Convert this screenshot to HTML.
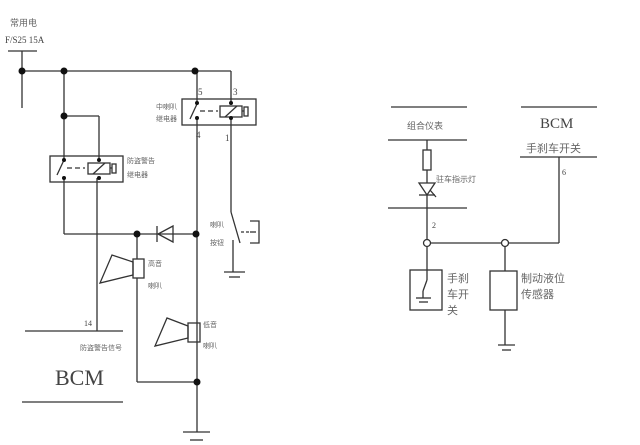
<!DOCTYPE html>
<html><head><meta charset="utf-8"><style>
html,body{margin:0;padding:0;background:#fff;}
svg{display:block;}
text{font-family:"Liberation Serif","Noto Serif CJK SC",serif;fill:#444;}
.c{font-family:"Liberation Sans","Noto Sans CJK SC",sans-serif;fill:#666;}
</style></head><body>
<svg width="640" height="445" viewBox="0 0 640 445" xmlns="http://www.w3.org/2000/svg">
<g stroke="#333" stroke-width="1.3" fill="none">
<!-- power -->
<line x1="8" y1="51" x2="37" y2="51"/>
<line x1="22" y1="51" x2="22" y2="108"/>
<line x1="22" y1="71" x2="231" y2="71"/>
<line x1="231" y1="71" x2="231" y2="103"/>
<line x1="64" y1="71" x2="64" y2="160"/>
<line x1="64" y1="116" x2="99" y2="116"/>
<line x1="99" y1="116" x2="99" y2="160"/>
<!-- relay 1 -->
<rect x="50" y="156" width="73" height="26"/>
<line x1="64" y1="160" x2="57" y2="175"/>
<line x1="67" y1="168" x2="85" y2="168" stroke-dasharray="5,3"/>
<rect x="88" y="163" width="22" height="11"/>
<line x1="93" y1="174" x2="105" y2="163"/>
<rect x="112" y="164" width="4" height="9"/>
<line x1="110" y1="168" x2="112" y2="168"/>
<line x1="64" y1="178" x2="64" y2="234"/>
<line x1="64" y1="234" x2="197" y2="234"/>
<line x1="97" y1="178" x2="97" y2="331"/>
<!-- relay 2 -->
<rect x="182" y="99" width="74" height="26"/>
<line x1="197" y1="71" x2="197" y2="103"/>
<line x1="197" y1="104" x2="190" y2="119"/>
<line x1="200" y1="111" x2="218" y2="111" stroke-dasharray="5,3"/>
<rect x="220" y="106" width="22" height="11"/>
<line x1="225" y1="117" x2="237" y2="106"/>
<rect x="244" y="107" width="4" height="9"/>
<line x1="242" y1="111" x2="244" y2="111"/>
<line x1="197" y1="118" x2="197" y2="432"/>
<line x1="231" y1="118" x2="231" y2="212"/>
<!-- horn switch -->
<line x1="231" y1="212" x2="240" y2="243"/>
<line x1="238" y1="240" x2="238" y2="272" transform="translate(-5,0)"/>
<line x1="224" y1="272" x2="245" y2="272"/>
<line x1="229" y1="277" x2="240" y2="277"/>
<line x1="241" y1="232" x2="250" y2="232" stroke-dasharray="3,2"/>
<polyline points="250,221 259,221 259,243 250,243"/>
<line x1="250" y1="232" x2="256" y2="232"/>
<!-- diode -->
<polygon points="173,226 173,242 158,234"/>
<line x1="157" y1="226" x2="157" y2="242"/>
<!-- horn1 -->
<line x1="137" y1="234" x2="137" y2="259"/>
<rect x="133" y="259" width="11" height="19"/>
<polygon points="133,262 112,255 100,283 133,275"/>
<line x1="137" y1="278" x2="137" y2="382"/>
<line x1="137" y1="382" x2="197" y2="382"/>
<!-- horn2 -->
<rect x="188" y="323" width="12" height="19"/>
<polygon points="188,326 167,318 155,346 188,338"/>
<!-- ground -->
<line x1="183" y1="432" x2="210" y2="432"/>
<line x1="190" y1="440" x2="203" y2="440"/>
<!-- BCM left -->
<line x1="25" y1="331" x2="123" y2="331"/>
<line x1="22" y1="402" x2="123" y2="402"/>
<!-- right diagram -->
<line x1="391" y1="107" x2="467" y2="107"/>
<line x1="388" y1="140" x2="467" y2="140"/>
<line x1="388" y1="208" x2="467" y2="208"/>
<line x1="427" y1="140" x2="427" y2="150"/>
<rect x="423" y="150" width="8" height="20"/>
<line x1="427" y1="170" x2="427" y2="183"/>
<polygon points="419,183 435,183 427,195"/>
<line x1="419" y1="195" x2="435" y2="195"/>
<line x1="430" y1="190" x2="436" y2="197"/>
<line x1="427" y1="195" x2="427" y2="240"/>
<line x1="430" y1="243" x2="502" y2="243"/>
<line x1="508" y1="243" x2="559" y2="243"/>
<line x1="559" y1="243" x2="559" y2="157"/>
<line x1="521" y1="107" x2="597" y2="107"/>
<line x1="520" y1="157" x2="597" y2="157"/>
<line x1="427" y1="246" x2="427" y2="270"/>
<rect x="410" y="270" width="32" height="40"/>
<line x1="427" y1="270" x2="427" y2="280"/>
<line x1="427" y1="280" x2="423" y2="291"/>
<line x1="423" y1="291" x2="423" y2="298"/>
<line x1="416" y1="298" x2="431" y2="298"/>
<line x1="419" y1="302" x2="428" y2="302"/>
<line x1="505" y1="246" x2="505" y2="271"/>
<rect x="490" y="271" width="27" height="39"/>
<line x1="505" y1="310" x2="505" y2="345"/>
<line x1="498" y1="345" x2="515" y2="345"/>
<line x1="502" y1="350" x2="511" y2="350"/>
</g>
<g fill="#111">
<circle cx="22" cy="71" r="3.5"/><circle cx="64" cy="71" r="3.5"/><circle cx="195" cy="71" r="3.5"/>
<circle cx="64" cy="116" r="3.5"/>
<circle cx="137" cy="234" r="3.5"/><circle cx="196" cy="234" r="3.5"/><circle cx="197" cy="382" r="3.5"/>
<circle cx="64" cy="160" r="2"/><circle cx="99" cy="160" r="2"/><circle cx="64" cy="178" r="2"/><circle cx="99" cy="178" r="2"/>
<circle cx="197" cy="103" r="2"/><circle cx="231" cy="103" r="2"/><circle cx="197" cy="118" r="2"/><circle cx="231" cy="118" r="2"/>
</g>
<g fill="#fff" stroke="#333" stroke-width="1.3">
<circle cx="427" cy="243" r="3.5"/><circle cx="505" cy="243" r="3.5"/>
</g>
<text x="10" y="26" class="c" font-size="9">常用电</text>
<text x="5" y="43" font-size="9">F/S25 15A</text>
<text x="198" y="95" font-size="9">5</text>
<text x="233" y="95" font-size="9">3</text>
<text x="196" y="138" font-size="9">4</text>
<text x="225" y="141" font-size="9">1</text>
<text x="156" y="109" class="c" font-size="7">中喇叭</text>
<text x="156" y="121" class="c" font-size="7">继电器</text>
<text x="127" y="163" class="c" font-size="7">防盗警告</text>
<text x="127" y="177" class="c" font-size="7">继电器</text>
<text x="210" y="227" class="c" font-size="7">喇叭</text>
<text x="210" y="245" class="c" font-size="7">按钮</text>
<text x="148" y="266" class="c" font-size="7">高音</text>
<text x="148" y="288" class="c" font-size="7">喇叭</text>
<text x="203" y="327" class="c" font-size="7">低音</text>
<text x="203" y="348" class="c" font-size="7">喇叭</text>
<text x="84" y="326" font-size="8">14</text>
<text x="80" y="350" class="c" font-size="7">防盗警告信号</text>
<text x="55" y="385" font-size="22">BCM</text>
<text x="407" y="129" class="c" font-size="9">组合仪表</text>
<text x="436" y="182" class="c" font-size="8">驻车指示灯</text>
<text x="432" y="228" font-size="8">2</text>
<text x="540" y="128" font-size="15">BCM</text>
<text x="526" y="152" class="c" font-size="11">手刹车开关</text>
<text x="562" y="175" font-size="8">6</text>
<text x="447" y="282" class="c" font-size="11">手刹</text>
<text x="447" y="298" class="c" font-size="11">车开</text>
<text x="447" y="314" class="c" font-size="11">关</text>
<text x="521" y="282" class="c" font-size="11">制动液位</text>
<text x="521" y="298" class="c" font-size="11">传感器</text>
</svg>
</body></html>
